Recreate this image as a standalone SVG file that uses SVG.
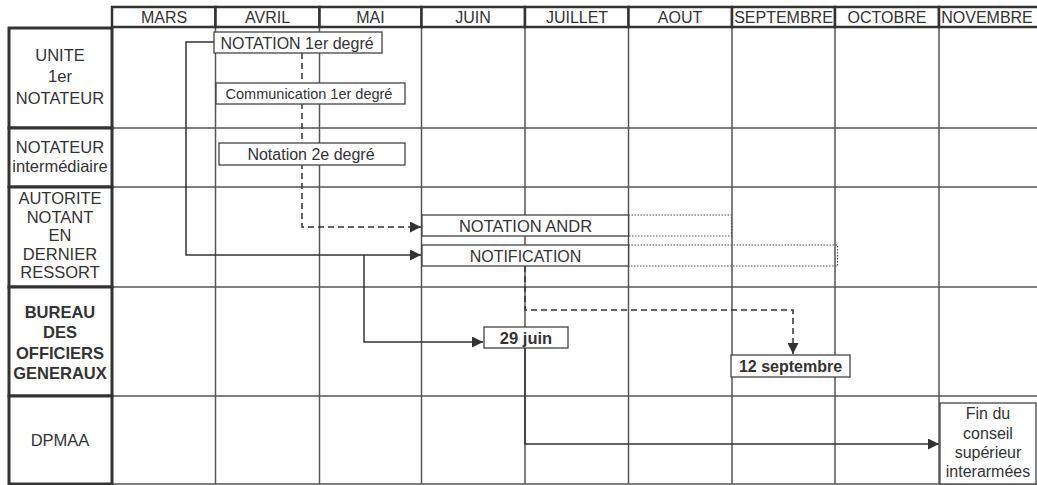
<svg xmlns="http://www.w3.org/2000/svg" width="1037" height="485" viewBox="0 0 1037 485">
<style>
.t{font-family:"Liberation Sans",Arial,sans-serif;fill:#333;text-anchor:middle}
.h{font-size:16px}
.l{font-size:16.5px}
.b{font-weight:bold}
.g{stroke:#555;stroke-width:1.5;fill:none}
.hd{fill:#fff;stroke:#333;stroke-width:2.5}
.lc{fill:#fff;stroke:#333;stroke-width:3}
.box{fill:#fff;stroke:#444;stroke-width:1.3}
.dot{fill:none;stroke:#555;stroke-width:1.2;stroke-dasharray:1.5,1.5}
.c{fill:none;stroke:#333;stroke-width:1.5}
.d{fill:none;stroke:#333;stroke-width:1.5;stroke-dasharray:6,4}
</style>
<defs>
<marker id="ar" markerUnits="userSpaceOnUse" markerWidth="12" markerHeight="11" refX="11" refY="5.5" orient="auto">
<path d="M0,0 L11,5.5 L0,11 z" fill="#333"/>
</marker>
</defs>
<rect width="1037" height="485" fill="#fff"/>
<g id="grid">
<path class="g" d="M215.5,27 V484 M319.5,27 V484 M421.5,27 V484 M525,27 V484 M628.5,27 V484 M732,27 V484 M835,27 V484 M939,27 V484"/>
<path class="g" d="M112,128 H1037 M112,187 H1037 M112,287 H1037 M112,396 H1037 M112,484 H1037"/>
</g>
<g id="header">
<rect class="hd" x="112" y="7" width="103.5" height="20"/>
<rect class="hd" x="215.5" y="7" width="104" height="20"/>
<rect class="hd" x="319.5" y="7" width="102" height="20"/>
<rect class="hd" x="421.5" y="7" width="103.5" height="20"/>
<rect class="hd" x="525" y="7" width="103.5" height="20"/>
<rect class="hd" x="628.5" y="7" width="103.5" height="20"/>
<rect class="hd" x="732" y="7" width="103" height="20"/>
<rect class="hd" x="835" y="7" width="104" height="20"/>
<rect class="hd" x="939" y="7" width="100" height="20"/>
<text class="t h" x="164" y="23">MARS</text>
<text class="t h" x="267.5" y="23">AVRIL</text>
<text class="t h" x="370.5" y="23">MAI</text>
<text class="t h" x="473" y="23">JUIN</text>
<text class="t h" x="577" y="23">JUILLET</text>
<text class="t h" x="680" y="23">AOUT</text>
<text class="t h" x="783.5" y="23">SEPTEMBRE</text>
<text class="t h" x="887" y="23">OCTOBRE</text>
<text class="t h" x="987" y="23">NOVEMBRE</text>
</g>
<g id="row-unite">
<rect class="lc" x="9" y="28" width="103" height="100"/>
<text class="t l" x="60" y="61">UNITE</text>
<text class="t l" x="60" y="82">1er</text>
<text class="t l" x="60" y="104">NOTATEUR</text>
</g>
<g id="row-notateur">
<rect class="lc" x="9" y="128" width="103" height="59"/>
<text class="t l" x="60" y="153">NOTATEUR</text>
<text class="t l" x="60" y="172">intermédiaire</text>
</g>
<g id="row-autorite">
<rect class="lc" x="9" y="187" width="103" height="100"/>
<text class="t l" x="60" y="204">AUTORITE</text>
<text class="t l" x="60" y="222.5">NOTANT</text>
<text class="t l" x="60" y="241">EN</text>
<text class="t l" x="60" y="259.5">DERNIER</text>
<text class="t l" x="60" y="278">RESSORT</text>
</g>
<g id="row-bureau">
<rect class="lc" x="9" y="287" width="103" height="109"/>
<text class="t l b" x="60" y="318">BUREAU</text>
<text class="t l b" x="60" y="338">DES</text>
<text class="t l b" x="60" y="359">OFFICIERS</text>
<text class="t l b" x="60" y="379">GENERAUX</text>
</g>
<g id="row-dpmaa">
<rect class="lc" x="9" y="396" width="103" height="88"/>
<text class="t l" x="60" y="446">DPMAA</text>
</g>
<g id="connectors">
<path class="d" d="M302,53 V227 H421" marker-end="url(#ar)"/>
<path class="c" d="M214,42 H186 V255 H421" marker-end="url(#ar)"/>
<path class="c" d="M364,255 V342 H483" marker-end="url(#ar)"/>
<path class="d" d="M525,266 V310 H793 V354" marker-end="url(#ar)"/>
<path class="c" d="M525,348 V444 H939" marker-end="url(#ar)"/>
</g>
<g id="notation-1er">
<rect class="box" x="214" y="32" width="168" height="21"/>
<text class="t" style="font-size:16px" x="297" y="48.5">NOTATION 1er degré</text>
</g>
<g id="communication-1er">
<rect class="box" x="216" y="83" width="189" height="21"/>
<text class="t" style="font-size:14.5px" x="309" y="98.5">Communication 1er degré</text>
</g>
<g id="notation-2e">
<rect class="box" x="219" y="143" width="186" height="22"/>
<text class="t" style="font-size:16px" x="311" y="159.5">Notation 2e degré</text>
</g>
<g id="notation-andr">
<rect class="dot" x="628.5" y="215" width="103" height="21"/>
<rect class="box" x="422" y="215" width="206.5" height="21"/>
<text class="t" style="font-size:16.5px" x="525.5" y="231.5">NOTATION ANDR</text>
</g>
<g id="notification">
<rect class="dot" x="628.5" y="245" width="209" height="21"/>
<rect class="box" x="422" y="245" width="206.5" height="21"/>
<text class="t" style="font-size:16px" x="525.5" y="261.5">NOTIFICATION</text>
</g>
<g id="juin-29">
<rect class="box" x="484" y="327" width="84" height="21"/>
<text class="t b" style="font-size:16.5px" x="526" y="343.5">29 juin</text>
</g>
<g id="septembre-12">
<rect class="box" x="731" y="355" width="119" height="22"/>
<text class="t b" style="font-size:16px" x="790.5" y="371.5">12 septembre</text>
</g>
<g id="fin-conseil">
<rect class="box" x="940" y="403" width="96" height="81"/>
<text class="t" style="font-size:16px" x="988" y="419">Fin du</text>
<text class="t" style="font-size:16px" x="988" y="439">conseil</text>
<text class="t" style="font-size:16px" x="988" y="458">supérieur</text>
<text class="t" style="font-size:16px" x="988" y="477">interarmées</text>
</g>
</svg>
